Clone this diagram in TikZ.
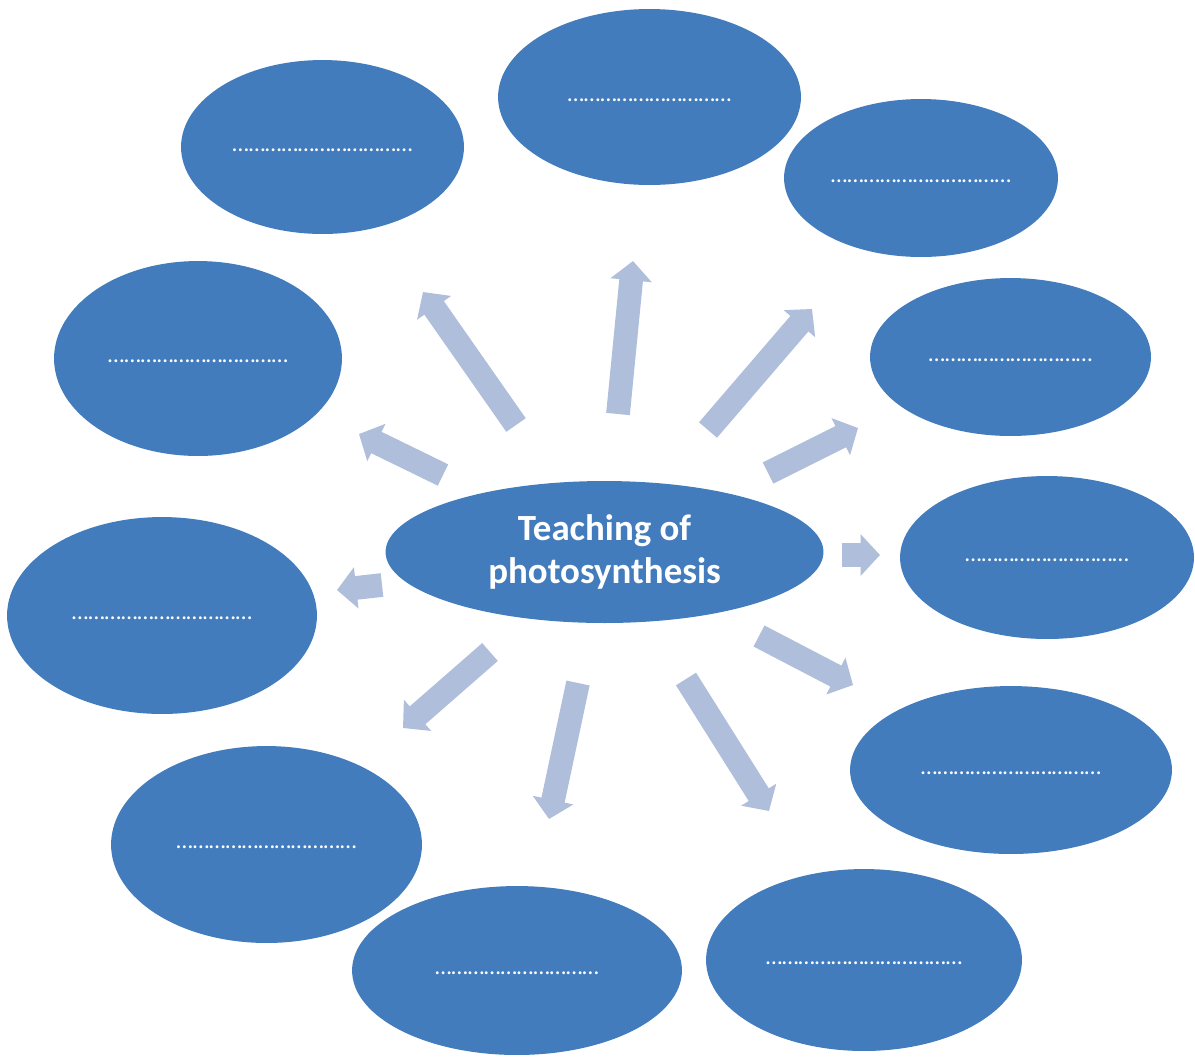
\documentclass[tikz,border=0pt]{standalone}
\usepackage{fontspec}
\setmainfont{Carlito}
\usetikzlibrary{shapes.geometric, arrows.meta, positioning, calc}
\definecolor{ovalblue}{RGB}{66,124,189}
\definecolor{spokeblue}{RGB}{174,190,219}
\tikzset{
  oval/.style={ellipse, fill=ovalblue, text=white, inner sep=0pt, outer sep=0pt, text height=5pt, text depth=0pt, font=\fontsize{13.5}{16}\selectfont},
  hub/.style={ellipse, fill=ovalblue, text=white, inner sep=0pt, outer sep=0pt, align=center, font=\fontsize{21}{24}\selectfont\bfseries},
  spoke/.style={draw=spokeblue, line width=13.5pt, -{Triangle[width=23pt, length=11pt]}}
}
\begin{document}
\begin{tikzpicture}[x=0.02cm, y=-0.02cm]
\useasboundingbox (0,0) rectangle (1195,1056);
% centre topic
\node[hub, minimum width=8.76cm, minimum height=2.84cm] (hub) at (604.5,552) {Teaching of\\photosynthesis};
% surrounding ovals
\foreach \n/\cx/\cy/\rx/\ry/\txt in {
    1/649.5/97/151.5/88/{…………………………},
    2/322.5/147/141.5/87/{……………………………},
    3/921/178/137/79/{……………………………},
    4/198/358.5/144/97.5/{……………………………},
    5/1010.5/357/140.5/79/{…………………………},
    6/162/615.5/155/98.5/{……………………………},
    7/1047/557.5/147/81.5/{…………………………},
    8/1011/770/161/84/{……………………………},
    9/266.5/844.5/155.5/98.5/{……………………………},
    10/517/970.5/165/84.5/{…………………………},
    11/864/960/158/91/{………………………………}} {
    \node[oval, minimum width=\rx*0.04cm, minimum height=\ry*0.04cm] (o\n) at (\cx,\cy) {\txt};
}
% arrows: tail / tip
\foreach \a/\tx/\ty/\hx/\hy in {
    a/516/425/423/292, b/618/414/633/261, c/708/430/812/309,
    d/768/473/858/428, e/842/555/880/555, f/759/636/853/685,
    g/686/679/769/811, h/578/683/549/819, i/490/652/403/728,
    j/382/585/337/590, k/443/475/359/434} {
    \coordinate (t\a) at (\tx,\ty);
    \coordinate (h\a) at (\hx,\hy);
    \draw[spoke] (t\a) -- (h\a);
}
\end{tikzpicture}
\end{document}
